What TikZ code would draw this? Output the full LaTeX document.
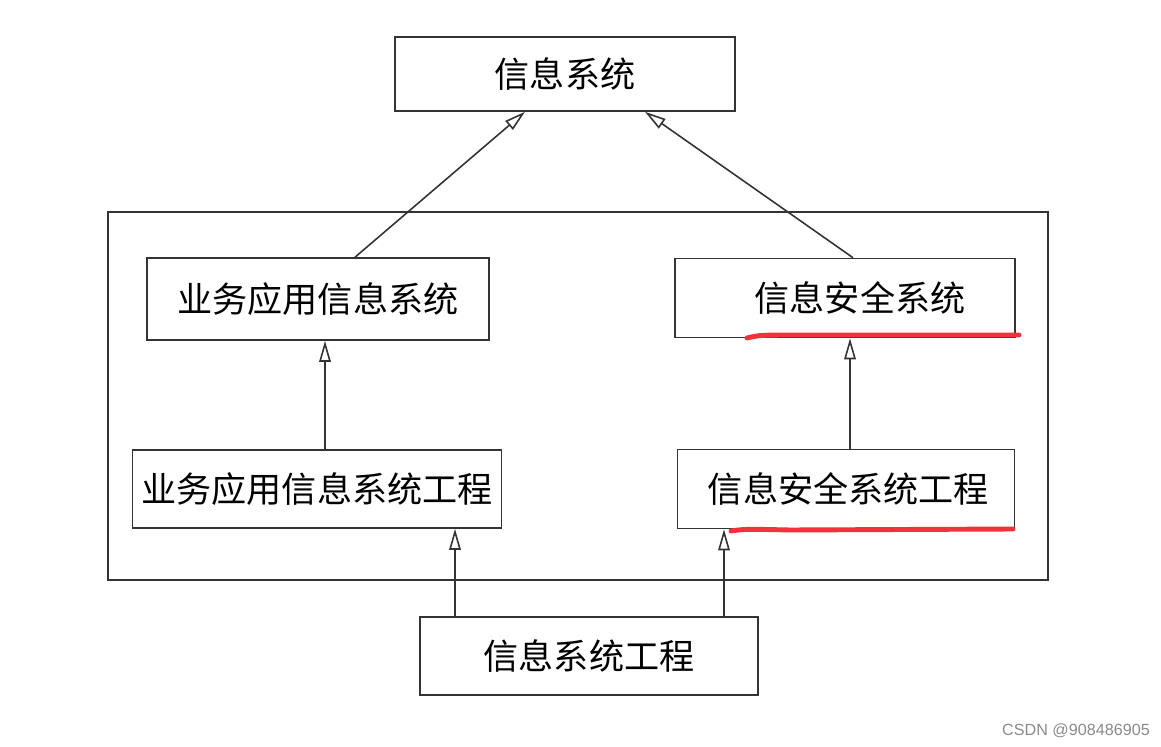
\documentclass[tikz,border=0pt]{standalone}
\usepackage{fontspec}
\usepackage{tikz}
\usepackage{xcolor}
\usetikzlibrary{arrows.meta, calc}
\newfontfamily\cjk{Noto Sans CJK SC}
\setsansfont{Liberation Sans}
\definecolor{cLine}{HTML}{333333}
\definecolor{cMark}{HTML}{F0323A}
\definecolor{cMuted}{HTML}{8A8A8A}

\begin{document}
\begin{tikzpicture}[x=0.02cm, y=-0.02cm,
    box/.style={draw=cLine, line width=0.9pt, minimum height=1.56cm,
                font=\cjk\fontsize{20}{24}\selectfont, inner sep=0pt},
    link/.style={draw=cLine, line width=0.9pt,
                 -{Triangle[open, length=4.2mm, width=2.3mm]}},
    redline/.style={draw=cMark, line width=2.8pt, line cap=round}]
        \useasboundingbox (0,0) rectangle (1161,747);
        % outer frame
        \node[draw=cLine, line width=0.9pt, minimum width=18.8cm, minimum height=7.36cm,
              inner sep=0pt] (frame) at (578,396) {};
        \node[box, minimum width=6.8cm, minimum height=1.48cm] (sys)    at (565,74)  {信息系统};
        \node[box, minimum width=6.84cm, minimum height=1.64cm] (biz)   at (318,299) {业务应用信息系统};
        \node[box, minimum width=6.8cm, minimum height=1.58cm] (sec)    at (845,298) {\hspace{0.6cm}信息安全系统};
        \node[box, minimum width=7.38cm] (bizeng) at (317,489) {业务应用信息系统工程};
        \node[box, minimum width=6.74cm, minimum height=1.58cm] (seceng) at (846,489) {\hspace{0.1cm}信息安全系统工程};
        \node[box, minimum width=6.76cm] (eng)  at (589,656) {信息系统工程};
        % arrow columns
        \coordinate (c1) at (325,0);
        \coordinate (c2) at (850,0);
        \coordinate (c3) at (455,0);
        \coordinate (c4) at (724,0);
        \coordinate (t1) at (355,0);
        \coordinate (t2) at (525,0);
        \coordinate (t3) at (853,0);
        \coordinate (t4) at (645,0);
        \draw[link] (biz.north -| t1) -- (sys.south -| t2);
        \draw[link] (sec.north -| t3) -- (sys.south -| t4);
        \draw[link] (bizeng.north -| c1) -- (biz.south -| c1);
        \draw[link] (seceng.north -| c2) -- (sec.south -| c2);
        \draw[link] (eng.north -| c3) -- (bizeng.south -| c3);
        \draw[link] (eng.north -| c4) -- (seceng.south -| c4);
        % red underlines
        \draw[redline] (747,338) .. controls (760,335) .. (800,335) -- (1019,335);
        \draw[redline] (731,531) .. controls (745,529) .. (790,530) -- (1013,529);
        \node[font=\sffamily\fontsize{9.2}{11}\selectfont, text=cMuted] (wm) at (1076,731) {CSDN @908486905};
\end{tikzpicture}
\end{document}
